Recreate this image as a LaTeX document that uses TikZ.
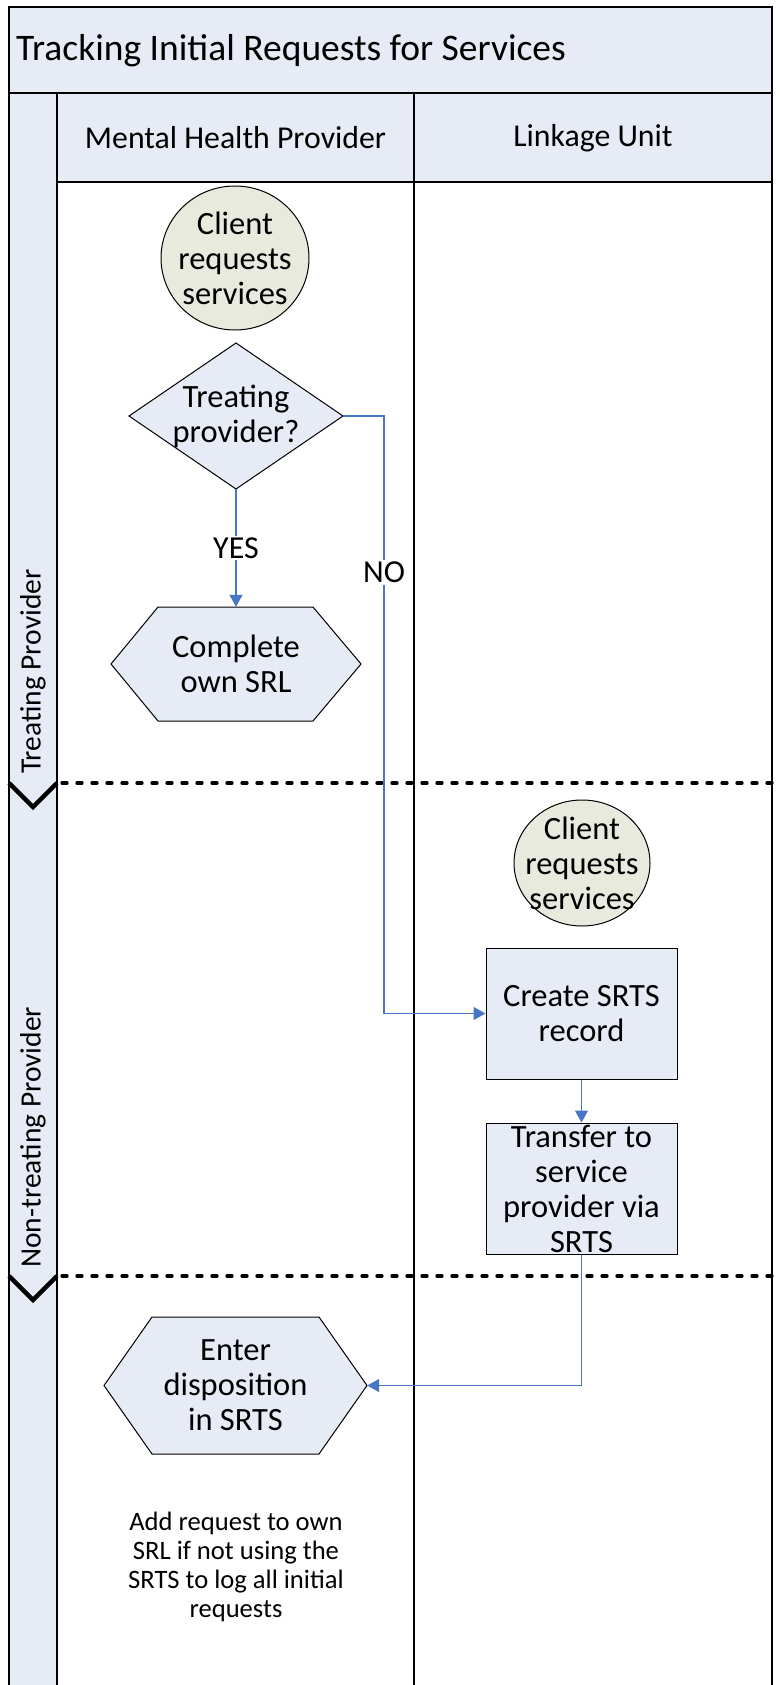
\documentclass[tikz,border=0pt]{standalone}
\usepackage{fontspec}
\setmainfont{Carlito}
\usetikzlibrary{arrows.meta}
\definecolor{lanefill}{RGB}{231,235,245}
\definecolor{boxfill}{RGB}{231,235,245}
\definecolor{startfill}{RGB}{233,234,222}
\definecolor{connblue}{RGB}{72,118,196}
\tikzset{
  lanebox/.style={draw=black, line width=1.5pt, fill=lanefill},
  laneline/.style={draw=black, line width=1.5pt},
  sepline/.style={draw=black, line width=3.3pt, dash pattern=on 5pt off 10pt, line cap=round},
  chevron/.style={draw=black, line width=4.5pt},
  shapeline/.style={draw=black, line width=1pt, fill=boxfill},
  startshape/.style={draw=black, line width=1pt, fill=startfill},
  txt/.style={align=center, inner sep=0pt, font=\fontsize{32.5}{35}\selectfont},
  procbox/.style={draw=black, line width=1pt, fill=boxfill, minimum width=191pt, minimum height=131pt, align=center, inner sep=0pt, font=\fontsize{32.5}{35}\selectfont},
  conn/.style={draw=connblue, line width=1.2pt, -{Triangle[length=12pt,width=13pt]}},
  lbl/.style={fill=white, inner sep=2pt, font=\fontsize{32}{35}\selectfont},
  headtxt/.style={font=\fontsize{31.8}{36}\selectfont},
  lanetxt/.style={font=\fontsize{29.5}{34}\selectfont, rotate=90, anchor=west, inner sep=0pt},
}
\begin{document}
\begin{tikzpicture}[x=1pt,y=-1pt]
\useasboundingbox (0,0) rectangle (779,1685);
% pool
\draw[lanebox] (9,7) rectangle (772,93);
\node[anchor=west, inner sep=0pt, font=\fontsize{37.5}{42}\selectfont] (title) at (16,51) {Tracking Initial Requests for Services};
\draw[lanebox] (9,93) rectangle (57,1700);
\draw[lanebox] (57,93) rectangle (772,182);
\draw[laneline] (414,93) -- (414,1700);
\draw[laneline] (772,93) -- (772,1700);
\node[headtxt] (hmh) at (235.5,138) {Mental Health Provider};
\node[headtxt] (hlu) at (593,138) {Linkage Unit};
% lane labels
\node[lanetxt] (ltp) at (33,774) {Treating Provider};
\node[lanetxt] (lnt) at (33,1268) {Non-treating Provider};
% separators
\draw[sepline] (62,783) -- (772,783);
\draw[sepline] (62,1276) -- (772,1276);
\draw[chevron] (9,783) -- (33,807) -- (57,783);
\draw[chevron] (9,1276) -- (33,1300) -- (57,1276);
% start 1
\draw[startshape] (235,258) ellipse [x radius=74, y radius=72];
\node[txt] (s1) at (235,258) {Client\\requests\\services};
% decision
\draw[shapeline] (129,416) -- (236,343) -- (343,416) -- (236,489) -- cycle;
\node[txt, minimum width=214pt, minimum height=146pt] (d1) at (236,416) {Treating\\provider?};
% hexagon 1
\coordinate (hc1) at (236,664);
\draw[shapeline] ([shift={(-125,0)}]hc1) -- ([shift={(-78,-57)}]hc1) -- ([shift={(77,-57)}]hc1) -- ([shift={(125,0)}]hc1) -- ([shift={(77,57)}]hc1) -- ([shift={(-78,57)}]hc1) -- cycle;
\node[txt, minimum width=250pt, minimum height=114pt] (h1) at (hc1) {Complete\\own SRL};
% start 2
\draw[startshape] (582,863) ellipse [x radius=68, y radius=63];
\node[txt] (s2) at (582,863) {Client\\requests\\services};
% boxes
\node[procbox] (b1) at (581.5,1013.5) {Create SRTS\\record};
\node[procbox] (b2) at (581.5,1188.5) {Transfer to\\service\\provider via\\SRTS};
% hexagon 2
\coordinate (hc2) at (235.5,1385.5);
\draw[shapeline] ([shift={(-131.5,0)}]hc2) -- ([shift={(-83.5,-68.5)}]hc2) -- ([shift={(83.5,-68.5)}]hc2) -- ([shift={(131.5,0)}]hc2) -- ([shift={(83.5,68.5)}]hc2) -- ([shift={(-83.5,68.5)}]hc2) -- cycle;
\node[txt, minimum width=263pt, minimum height=137pt] (h2) at (hc2) {Enter\\disposition\\in SRTS};
% note
\node[align=center, inner sep=0pt, font=\fontsize{26.6}{29.2}\selectfont] (note) at (236,1567) {Add request to own\\SRL if not using the\\SRTS to log all initial\\requests};
% connectors
\coordinate (nobend) at (384,416);
\draw[conn] (d1.south) -- node[lbl, pos=0.5] {YES} (h1.north);
\draw[conn] (d1.east) -- (nobend) |- node[lbl, pos=0.131] {NO} (b1.west);
\draw[conn] (b1.south) -- (b2.north);
\draw[conn] (b2.south) |- (h2.east);
\end{tikzpicture}
\end{document}
